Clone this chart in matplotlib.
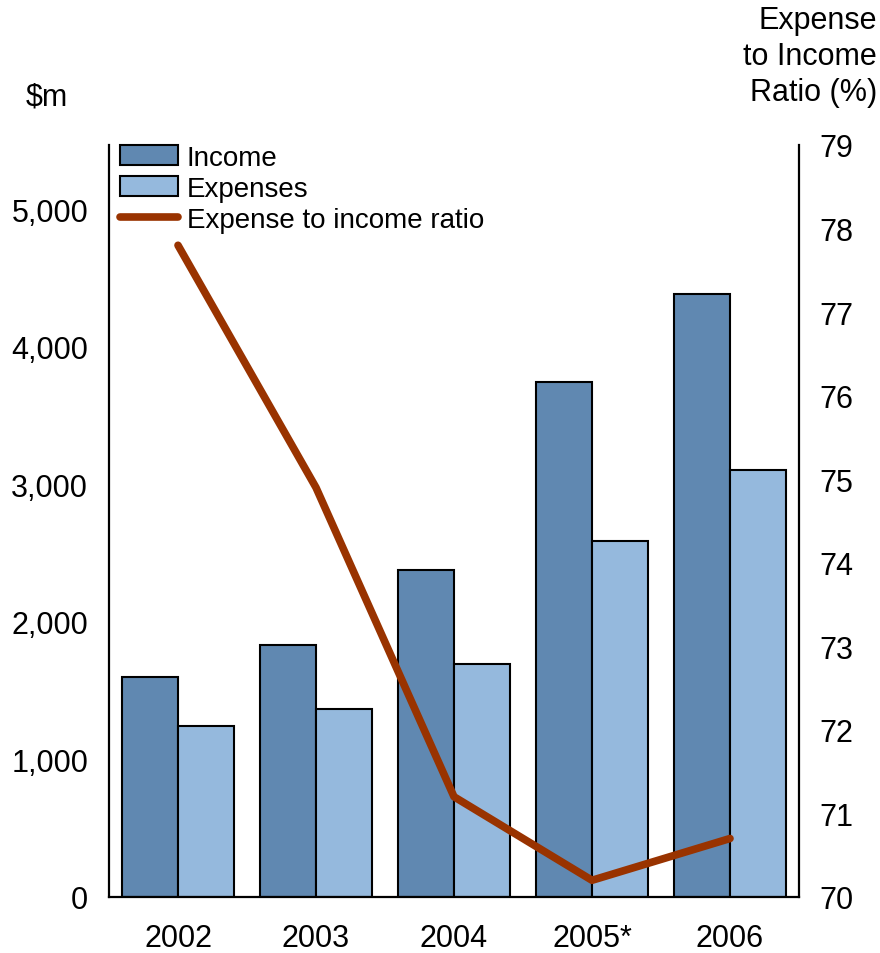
import matplotlib
matplotlib.use("Agg")
import matplotlib.pyplot as plt
import numpy as np

plt.rcParams['font.family'] = ['Liberation Sans', 'DejaVu Sans']

years = ["2002", "2003", "2004", "2005*", "2006"]
income = [1600, 1830, 2375, 3745, 4385]
expenses = [1240, 1365, 1690, 2585, 3105]
ratio = [77.8, 74.9, 71.2, 70.2, 70.7]

income_color = "#6088B1"
expense_color = "#95B9DD"
ratio_color = "#993300"

fig = plt.figure(figsize=(8.8, 9.54), dpi=100)
ax = fig.add_axes([109 / 880, 56 / 954, 690 / 880, 752 / 954])
x = np.arange(len(years))
w = 0.406

ax.bar(x - w / 2, income, width=w, color=income_color, edgecolor="black",
       linewidth=1.5, label="Income", zorder=2)
ax.bar(x + w / 2, expenses, width=w, color=expense_color, edgecolor="black",
       linewidth=1.5, label="Expenses", zorder=2)

ax.set_xlim(-0.5, 4.5)
ax.set_ylim(0, 5466)
ax.set_yticks([0, 1000, 2000, 3000, 4000, 5000])
ax.set_yticklabels(["0", "1,000", "2,000", "3,000", "4,000", "5,000"])
ax.set_xticks(x)
ax.set_xticklabels(years)
ax.tick_params(axis="both", length=0, labelsize=22)
ax.tick_params(axis="y", pad=15)
ax.tick_params(axis="x", pad=19)
for s in ["top", "right"]:
    ax.spines[s].set_visible(False)
for s in ["left", "bottom"]:
    ax.spines[s].set_linewidth(1.6)

ax2 = ax.twinx()
ax2.plot(x, ratio, color=ratio_color, linewidth=5.5, solid_capstyle="round",
         label="Expense to income ratio", zorder=3)
ax2.set_ylim(70, 79)
ax2.set_yticks(range(70, 80))
ax2.tick_params(axis="y", length=0, labelsize=22, pad=15)
for s in ["top", "left", "bottom"]:
    ax2.spines[s].set_visible(False)
ax2.spines["right"].set_linewidth(1.6)

h1, l1 = ax.get_legend_handles_labels()
h2, l2 = ax2.get_legend_handles_labels()
leg = ax2.legend(h1 + h2, l1 + l2, loc="upper left", bbox_to_anchor=(0.0, 1.015),
                 frameon=False, fontsize=20, handlelength=2.1, handletextpad=0.3,
                 labelspacing=0.18, borderaxespad=0.0)

fig.text(47 / 880, 1 - 98 / 954, "$m", fontsize=22, ha="center", va="center")
fig.text(877 / 880, 1 - 57 / 954, "Expense\nto Income\nRatio (%)", fontsize=22,
         ha="right", va="center", linespacing=1.27)

fig.savefig("out.png", dpi=100)
